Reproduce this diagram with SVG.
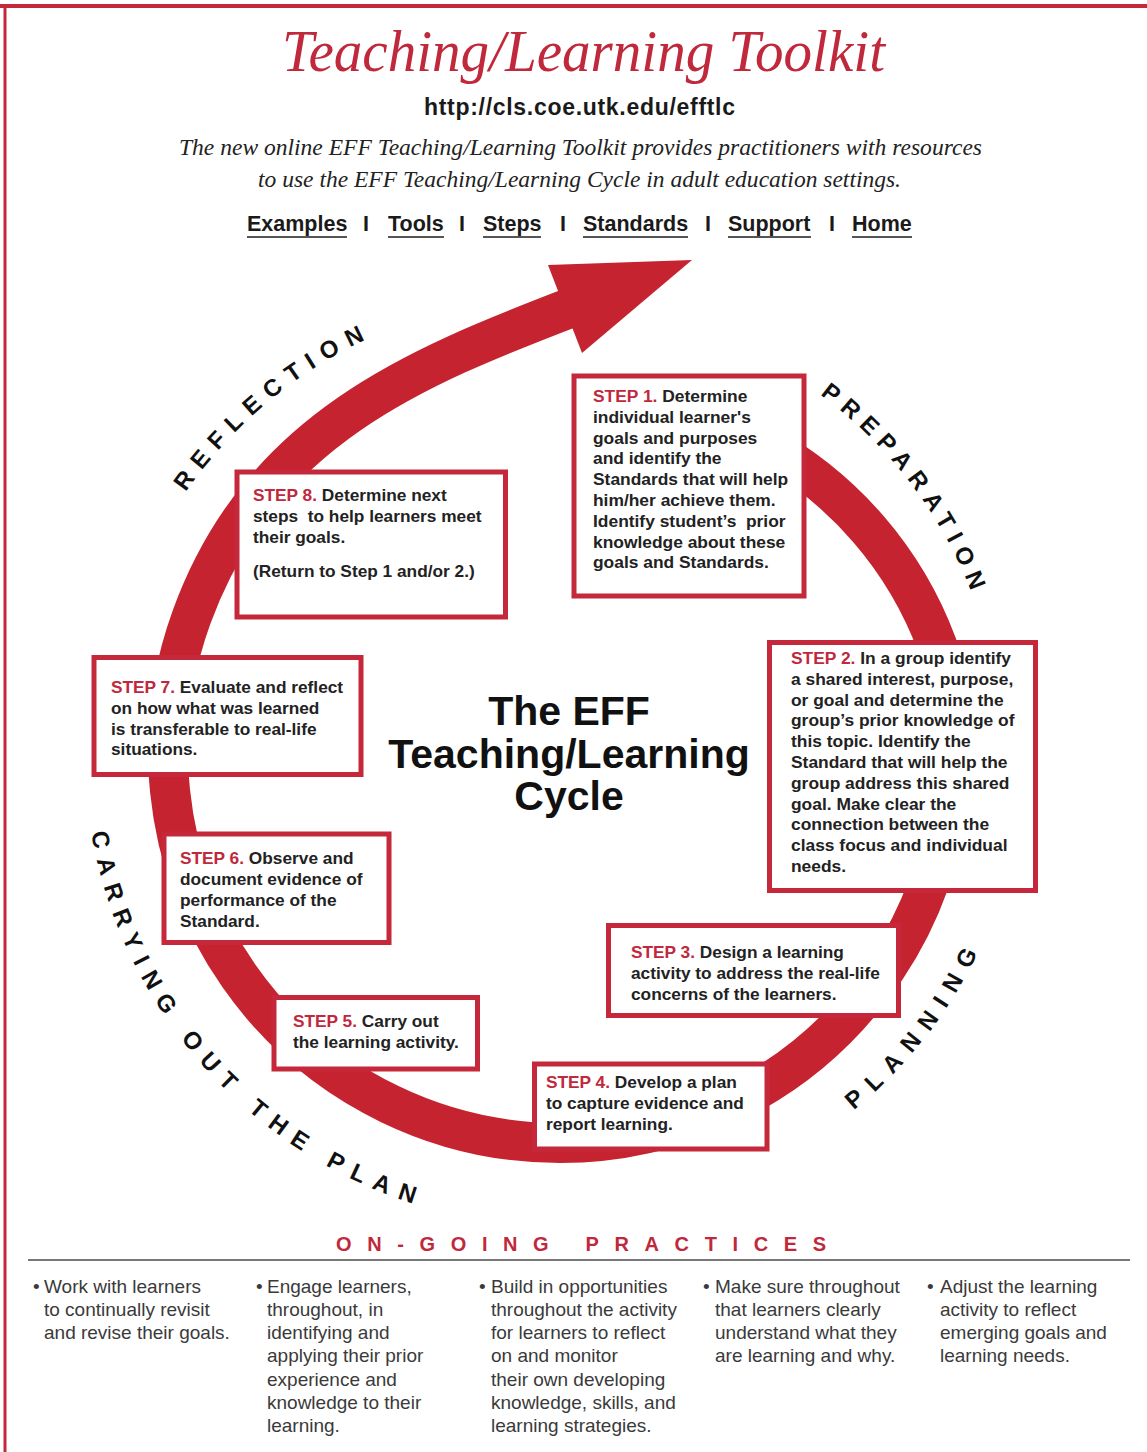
<svg xmlns="http://www.w3.org/2000/svg" width="1147" height="1452" viewBox="0 0 1147 1452">
<style>
.box{fill:#fff;stroke:#c4283a;stroke-width:5}
.bt{font-family:"Liberation Sans",Arial,Helvetica,sans-serif;font-weight:bold;font-size:17.3px;fill:#222}
.big{font-size:17.4px}
.stp{fill:#c0283c}
.arc{font-family:"Liberation Sans",Arial,Helvetica,sans-serif;font-weight:bold;font-size:24px;fill:#111}
.nav{font-family:"Liberation Sans",Arial,Helvetica,sans-serif;font-weight:bold;font-size:21.5px;fill:#1a1a1a}
.bul{font-family:"Liberation Sans",Arial,Helvetica,sans-serif;font-size:19px;fill:#3a3a3a}
.ul{stroke:#555;stroke-width:2}
</style>
<defs>
<path id="arcRefl" d="M 112.3 670 A 455 455 0 0 1 562 296"/>
<path id="arcPrep" d="M 658.8 321.2 A 441 441 0 0 1 1000.4 773.7"/>
<path id="arcCarry" d="M 89.2 681 A 476 476 0 0 0 572.9 1226.8"/>
<path id="arcPlan" d="M 736.8 1180 A 464 464 0 0 0 1019.9 812.4"/>
</defs>
<rect width="1147" height="1452" fill="#fff"/>
<g id="frame">
<line x1="0" y1="6" x2="1147" y2="6" stroke="#c4283a" stroke-width="4"/>
<line x1="5" y1="4" x2="5" y2="1452" stroke="#c4283a" stroke-width="3"/>
</g>
<g id="header">
<text x="282" y="71" font-family="'Liberation Serif','Times New Roman',serif" font-style="italic" font-size="60" fill="#c0283c" textLength="603" lengthAdjust="spacingAndGlyphs">Teaching/Learning Toolkit</text>
<text x="424" y="115" font-family="'Liberation Sans',Arial,sans-serif" font-weight="bold" font-size="23" fill="#1a1a1a" textLength="311" lengthAdjust="spacing">http://cls.coe.utk.edu/efftlc</text>
<text x="179" y="155" font-family="'Liberation Serif','Times New Roman',serif" font-style="italic" font-size="23" fill="#222" textLength="803" lengthAdjust="spacingAndGlyphs">The new online EFF Teaching/Learning Toolkit provides practitioners with resources</text>
<text x="258" y="187" font-family="'Liberation Serif','Times New Roman',serif" font-style="italic" font-size="23" fill="#222" textLength="643" lengthAdjust="spacingAndGlyphs">to use the EFF Teaching/Learning Cycle in adult education settings.</text>
</g>
<g id="nav">
<text class="nav" x="247" y="231">Examples</text>
<text class="nav" x="366" y="231" text-anchor="middle">I</text>
<text class="nav" x="388" y="231">Tools</text>
<text class="nav" x="462" y="231" text-anchor="middle">I</text>
<text class="nav" x="483" y="231">Steps</text>
<text class="nav" x="563" y="231" text-anchor="middle">I</text>
<text class="nav" x="583" y="231">Standards</text>
<text class="nav" x="708" y="231" text-anchor="middle">I</text>
<text class="nav" x="728" y="231">Support</text>
<text class="nav" x="832" y="231" text-anchor="middle">I</text>
<text class="nav" x="852" y="231">Home</text>
<line class="ul" x1="247" y1="237" x2="347" y2="237"/>
<line class="ul" x1="388" y1="237" x2="444" y2="237"/>
<line class="ul" x1="483" y1="237" x2="541" y2="237"/>
<line class="ul" x1="583" y1="237" x2="688" y2="237"/>
<line class="ul" x1="728" y1="237" x2="811" y2="237"/>
<line class="ul" x1="852" y1="237" x2="912" y2="237"/>
</g>
<g id="connectors">
<path id="cycle-ring" d="M 765 445 A 380 380 0 0 1 937 645 A 392 392 0 0 1 560 1143 A 392 392 0 0 1 191.6 617 C 260 429 416 367 575 306" fill="none" stroke="#c62330" stroke-width="40"/>
<polygon id="cycle-arrowhead" points="548,265 692,260 582,353" fill="#c62330"/>
</g>
<g id="phase-labels">
<text class="arc" letter-spacing="9.4"><textPath href="#arcRefl" startOffset="50%" text-anchor="middle">REFLECTION</textPath></text>
<text class="arc" letter-spacing="8"><textPath href="#arcPrep" startOffset="50%" text-anchor="middle">PREPARATION</textPath></text>
<text class="arc" letter-spacing="10.2"><textPath href="#arcCarry" startOffset="152.3">CARRYING</textPath></text>
<text class="arc" letter-spacing="10.2"><textPath href="#arcCarry" startOffset="378.8">OUT</textPath></text>
<text class="arc" letter-spacing="10.2"><textPath href="#arcCarry" startOffset="477">THE</textPath></text>
<text class="arc" letter-spacing="10.2"><textPath href="#arcCarry" startOffset="572.5">PLAN</textPath></text>
<text class="arc" letter-spacing="10.9"><textPath href="#arcPlan" startOffset="50%" text-anchor="middle">PLANNING</textPath></text>
</g>
<g id="center-title" font-family="'Liberation Sans',Arial,sans-serif" font-weight="bold" font-size="41" fill="#111" text-anchor="middle">
<text x="569" y="725">The EFF</text>
<text x="569" y="768">Teaching/Learning</text>
<text x="569" y="810">Cycle</text>
</g>
<g id="step1">
<rect class="box" x="574" y="376" width="230" height="220"/>
<text class="bt big"><tspan x="593" y="402"><tspan class="stp">STEP 1.</tspan> Determine</tspan><tspan x="593" y="422.8">individual learner's</tspan><tspan x="593" y="443.6">goals and purposes</tspan><tspan x="593" y="464.4">and identify the</tspan><tspan x="593" y="485.2">Standards that will help</tspan><tspan x="593" y="506">him/her achieve them.</tspan><tspan x="593" y="526.8">Identify student’s&#160; prior</tspan><tspan x="593" y="547.6">knowledge about these</tspan><tspan x="593" y="568.4">goals and Standards.</tspan></text>
</g>
<g id="step2">
<rect class="box" x="769.5" y="642.5" width="266" height="248"/>
<text class="bt big"><tspan x="791" y="664"><tspan class="stp">STEP 2.</tspan> In a group identify</tspan><tspan x="791" y="684.8">a shared interest, purpose,</tspan><tspan x="791" y="705.6">or goal and determine the</tspan><tspan x="791" y="726.4">group’s prior knowledge of</tspan><tspan x="791" y="747.2">this topic. Identify the</tspan><tspan x="791" y="768">Standard that will help the</tspan><tspan x="791" y="788.8">group address this shared</tspan><tspan x="791" y="809.6">goal. Make clear the</tspan><tspan x="791" y="830.4">connection between the</tspan><tspan x="791" y="851.2">class focus and individual</tspan><tspan x="791" y="872">needs.</tspan></text>
</g>
<g id="step3">
<rect class="box" x="608.5" y="925.5" width="290" height="90"/>
<text class="bt"><tspan x="631" y="958"><tspan class="stp">STEP 3.</tspan> Design a learning</tspan><tspan x="631" y="979">activity to address the real-life</tspan><tspan x="631" y="1000">concerns of the learners.</tspan></text>
</g>
<g id="step4">
<rect class="box" x="534.5" y="1064" width="232.5" height="85"/>
<text class="bt"><tspan x="546" y="1088"><tspan class="stp">STEP 4.</tspan> Develop a plan</tspan><tspan x="546" y="1109">to capture evidence and</tspan><tspan x="546" y="1130">report learning.</tspan></text>
</g>
<g id="step5">
<rect class="box" x="274" y="997.5" width="203.5" height="71.5"/>
<text class="bt"><tspan x="293" y="1027"><tspan class="stp">STEP 5.</tspan> Carry out</tspan><tspan x="293" y="1048">the learning activity.</tspan></text>
</g>
<g id="step6">
<rect class="box" x="164" y="834" width="225" height="108.5"/>
<text class="bt"><tspan x="180" y="864"><tspan class="stp">STEP 6.</tspan> Observe and</tspan><tspan x="180" y="885">document evidence of</tspan><tspan x="180" y="906">performance of the</tspan><tspan x="180" y="927">Standard.</tspan></text>
</g>
<g id="step7">
<rect class="box" x="94" y="657.5" width="267" height="117"/>
<text class="bt"><tspan x="111" y="693"><tspan class="stp">STEP 7.</tspan> Evaluate and reflect</tspan><tspan x="111" y="714">on how what was learned</tspan><tspan x="111" y="734.5">is transferable to real-life</tspan><tspan x="111" y="755">situations.</tspan></text>
</g>
<g id="step8">
<rect class="box" x="237" y="472" width="268.5" height="145"/>
<text class="bt"><tspan x="253" y="501"><tspan class="stp">STEP 8.</tspan> Determine next</tspan><tspan x="253" y="522">steps&#160; to help learners meet</tspan><tspan x="253" y="543">their goals.</tspan><tspan x="253" y="577">(Return to Step 1 and/or 2.)</tspan></text>
</g>
<g id="ongoing-practices">
<text x="336" y="1251" font-family="'Liberation Sans',Arial,sans-serif" font-weight="bold" font-size="20" fill="#c0283c" textLength="490" lengthAdjust="spacing">ON-GOING PRACTICES</text>
<line x1="28" y1="1260" x2="1130" y2="1260" stroke="#777" stroke-width="2"/>
<text class="bul"><tspan x="33" y="1293">•</tspan><tspan x="44" y="1293">Work with learners</tspan><tspan x="44" y="1316">to continually revisit</tspan><tspan x="44" y="1339">and revise their goals.</tspan></text>
<text class="bul"><tspan x="256" y="1293">•</tspan><tspan x="267" y="1293">Engage learners,</tspan><tspan x="267" y="1316">throughout, in</tspan><tspan x="267" y="1339">identifying and</tspan><tspan x="267" y="1362">applying their prior</tspan><tspan x="267" y="1386">experience and</tspan><tspan x="267" y="1409">knowledge to their</tspan><tspan x="267" y="1432">learning.</tspan></text>
<text class="bul"><tspan x="479" y="1293">•</tspan><tspan x="491" y="1293">Build in opportunities</tspan><tspan x="491" y="1316">throughout the activity</tspan><tspan x="491" y="1339">for learners to reflect</tspan><tspan x="491" y="1362">on and monitor</tspan><tspan x="491" y="1386">their own developing</tspan><tspan x="491" y="1409">knowledge, skills, and</tspan><tspan x="491" y="1432">learning strategies.</tspan></text>
<text class="bul"><tspan x="703" y="1293">•</tspan><tspan x="715" y="1293">Make sure throughout</tspan><tspan x="715" y="1316">that learners clearly</tspan><tspan x="715" y="1339">understand what they</tspan><tspan x="715" y="1362">are learning and why.</tspan></text>
<text class="bul"><tspan x="927" y="1293">•</tspan><tspan x="940" y="1293">Adjust the learning</tspan><tspan x="940" y="1316">activity to reflect</tspan><tspan x="940" y="1339">emerging goals and</tspan><tspan x="940" y="1362">learning needs.</tspan></text>
</g>
</svg>
